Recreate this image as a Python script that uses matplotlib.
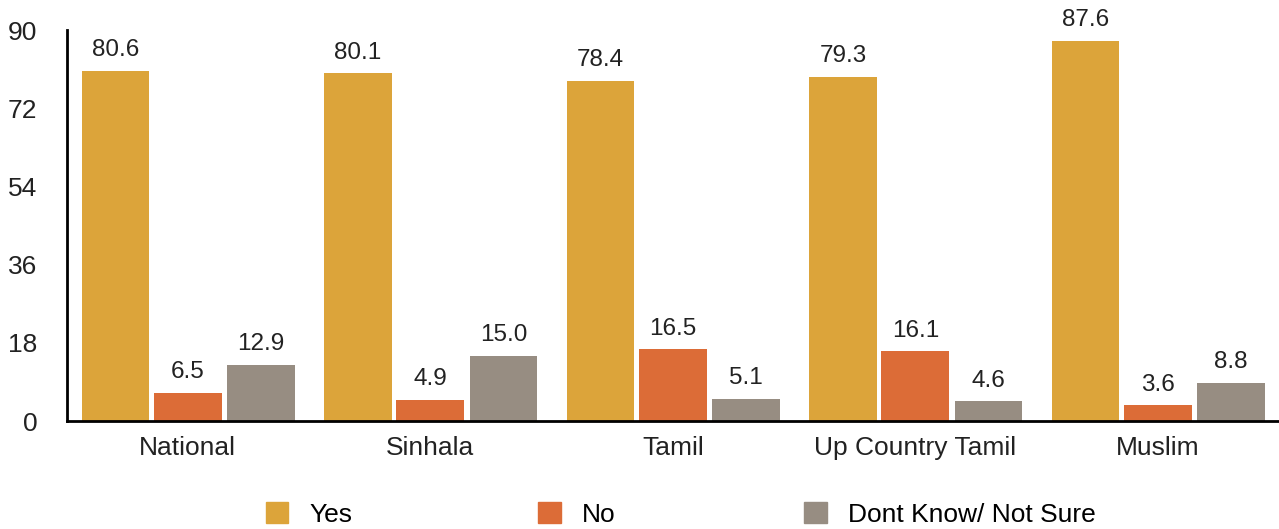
import matplotlib.pyplot as plt
import matplotlib.patches as mpatches
import numpy as np

plt.rcParams['font.family'] = ['Liberation Sans', 'DejaVu Sans']

groups = ['National', 'Sinhala', 'Tamil', 'Up Country Tamil', 'Muslim']
yes = [80.6, 80.1, 78.4, 79.3, 87.6]
no = [6.5, 4.9, 16.5, 16.1, 3.6]
dontKnow = [12.9, 15.0, 5.1, 4.6, 8.8]
seriesNames = ['Yes', 'No', 'Dont Know/ Not Sure']
seriesColors = ['#DCA43A', '#DC6C37', '#978D82']

fig = plt.figure(figsize=(12.79, 5.29), dpi=100)
ax = fig.add_axes([0.052, 0.204, 0.948, 0.739])

x = np.arange(len(groups))
w = 0.28
offsets = [-0.298, 0.0, 0.302]
for vals, off, col in zip([yes, no, dontKnow], offsets, seriesColors):
    bars = ax.bar(x + off, vals, w, color=col)
    for b, v in zip(bars, vals):
        ax.text(b.get_x() + b.get_width() / 2, v + 2.2, '%.1f' % v,
                ha='center', va='bottom', fontsize=17.5, color='#222222')

ax.set_xlim(-0.5, 4.5)
ax.set_ylim(0, 90)
ax.set_yticks([0, 18, 36, 54, 72, 90])
ax.set_xticks(x)
ax.set_xticklabels(groups)
ax.tick_params(axis='x', length=0, labelsize=19, colors='#222222', pad=11)
ax.tick_params(axis='y', length=0, labelsize=19, colors='#222222', pad=21)
for s in ['top', 'right']:
    ax.spines[s].set_visible(False)
for s in ['left', 'bottom']:
    ax.spines[s].set_linewidth(2)
    ax.spines[s].set_color('black')

legendX = [0.208, 0.421, 0.629]
for name, col, lx in zip(seriesNames, seriesColors, legendX):
    h = mpatches.Patch(color=col, label=name)
    fig.legend(handles=[h], loc='center left', bbox_to_anchor=(lx, 0.028),
               frameon=False, fontsize=19, handlelength=0.85, handleheight=0.85,
               handletextpad=0.8, borderaxespad=0, borderpad=0)

fig.savefig('out.png', dpi=100)
